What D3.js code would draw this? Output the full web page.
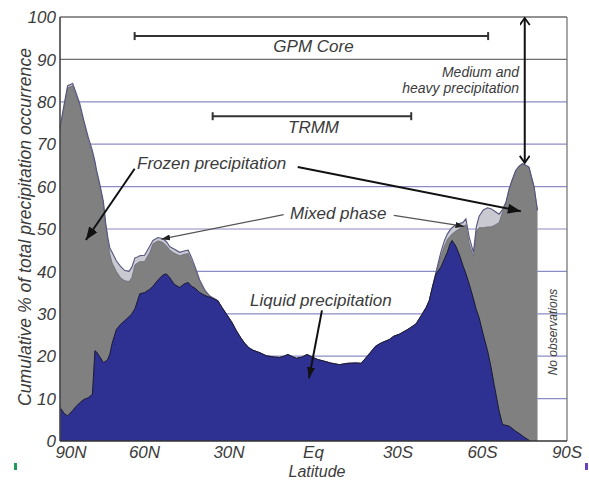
<!DOCTYPE html>
<html><head><meta charset="utf-8">
<script src="https://cdn.jsdelivr.net/npm/d3@7"></script>
<style>
body{margin:0;background:#fff}
svg{display:block}
text{font-family:"Liberation Sans",Arial,sans-serif;font-style:italic;fill:#3b3b3b}
</style>
</head><body>
<svg id="chart" width="589" height="480"></svg>
<script>
// ---- data (cumulative % of total precipitation occurrence) ----
const latitudes = [90,88.5,87.3,85.5,84.5,83,81.5,80,78.5,77.6,77,76,74.6,73.8,73,72.3,71.5,70,68.5,67,65.5,64.5,63.4,62.5,61.7,60,58.1,57,55.2,53.4,52.2,51,49.5,47.5,46,44.5,43.3,42,40.4,38.5,36.8,34,
  32.5,30.9,29,27.4,25.8,24.4,23,21.5,19,16.8,14,12,10.5,9.1,7.5,6.1,4,2.3,0.5,-1.5,-3.3,-6,-9.2,-12,-15,-16.9,-18.5,-20.4,-22,-23.4,-25,-26.9,-28.5,-30.5,-33.5,-36.4,-38.5,-40,-41.1,-42.3,-43.5,
  -45.2,-46.5,-47.5,-48.5,-49.2,-50.5,-51.7,-53,-54.1,-55.3,-56.8,-57.8,-58.8,-60.3,-61.8,-63,-64.1,-65.9,-67.1,-68.3,-69.5,-70.5,-71.8,-73,-74.2,-75.5,-76.5,-77.3,-78.3,-79.5];
const liquidCum = [7.9,6.5,5.9,7.2,8,9,9.8,10.2,11,21.3,21,20,18.5,18.8,19.3,20.5,23,26.3,27.5,28.4,29.3,30,31.2,33,34.7,35,35.8,36.5,38,39.2,39.4,38.5,37,36.2,37,37.4,36.5,36,35,34.3,33.9,33.1,
  31.5,29.9,28,26,24.3,23,22,21.4,20.8,20.1,19.8,19.7,20,20.4,19.9,19.5,19.8,20.4,19.8,19.2,18.9,18.4,18,18.3,18.4,18.3,19.5,21,22.3,22.9,23.4,23.9,24.7,25.2,26.3,27.6,29.8,31.5,33.1,36.5,39.4,
  41,43,44.5,46.5,47.3,46,44.1,41.5,39.5,37,33.5,31,29.1,25,21.3,17.5,13.4,7.1,3.9,3.7,3.5,3,2.3,1.8,1.2,0.6,0.2,0,0,0];
const frozenCum = [73.5,79,83.3,83.8,82,79,75,71,68,65.5,63.3,60.5,56,51,47,44,42,40,38.5,37.8,37.6,38.5,41.5,42,42.3,42.3,44.5,46.5,47.2,46.8,46,45,44.3,43.7,44,44.2,42.5,40.5,37.6,35.2,34.1,33.1,
  31.5,29.9,28,26,24.3,23,22,21.4,20.8,20.1,19.8,19.7,20,20.4,19.9,19.5,19.8,20.4,19.8,19.2,18.9,18.4,18,18.3,18.4,18.3,19.5,21,22.3,22.9,23.4,23.9,24.7,25.2,26.3,27.6,29.8,31.5,33.1,36.5,39.6,
  43.5,46,47.5,48.3,48.8,49.5,50,50.5,51,46.5,43.5,49.5,50.3,50.3,50.5,50.5,50.8,51.5,54,56,59.5,61.5,63.8,64.8,65.4,65,64.6,62.5,60,54.4];
const totalCum = [74,79.5,83.8,84.3,82.5,79.6,75.5,71.7,68.5,66,63.8,61,56.5,51.5,48,45.5,44.5,42.5,41.2,40.2,40,41,43.2,43.4,43.7,43.8,46,47.3,48,47.7,47,45.8,45.3,44.5,44.8,45,43.3,41,38,35.5,34.2,33.1,
  31.5,29.9,28,26,24.3,23,22,21.4,20.8,20.1,19.8,19.7,20,20.4,19.9,19.5,19.8,20.4,19.8,19.2,18.9,18.4,18,18.3,18.4,18.3,19.5,21,22.3,22.9,23.4,23.9,24.7,25.2,26.3,27.6,29.8,31.5,33.1,36.5,39.8,
  44.5,47.3,48.8,49.8,50.3,51,51.3,51.5,52.4,48,44.5,50.5,53,54.5,55,54.8,54.3,53.5,54.6,56.3,59.5,61.5,63.8,64.8,65.4,65,64.6,62.5,60,54.4];

const yTicks = [0,10,20,30,40,50,60,70,80,90,100];
const xTicks = [90,60,30,0,-30,-60,-90];
const xTickLabels = ["90N","60N","30N","Eq","30S","60S","90S"];
const gpmRange = [63.5,-62];   // latitude coverage bar
const trmmRange = [35.8,-34.7];

// ---- layout ----
const svg = d3.select("#chart");
const mLeft = 60, mRight = 567, mTop = 17, mBottom = 441;
const x = d3.scaleLinear().domain([90,-90]).range([mLeft,mRight]);
const y = d3.scaleLinear().domain([0,100]).range([mBottom,mTop]);

const data = latitudes.map((lat,i)=>({lat, liquid:liquidCum[i], frozen:frozenCum[i], total:totalCum[i]}));

// markers
const defs = svg.append("defs");
function marker(id,len,wid,color){
  defs.append("marker").attr("id",id).attr("markerUnits","userSpaceOnUse")
    .attr("markerWidth",len).attr("markerHeight",wid).attr("refX",len).attr("refY",wid/2)
    .attr("orient","auto").append("path")
    .attr("d",`M0,0L${len},${wid/2}L0,${wid}Z`).attr("fill",color);
}
marker("hBig",13,10,"#111");
marker("hMid",11,8,"#111");
marker("hSmall",9,6,"#222");
defs.append("marker").attr("id","chev").attr("markerUnits","userSpaceOnUse")
  .attr("markerWidth",12).attr("markerHeight",12).attr("refX",8).attr("refY",5)
  .attr("orient","auto-start-reverse").append("path")
  .attr("d","M1,0L8,5L1,10").attr("fill","none").attr("stroke","#111").attr("stroke-width",1.8);

// gridlines
svg.append("g").selectAll("line").data(yTicks.filter(v=>v>0)).join("line")
  .attr("x1",mLeft).attr("x2",mRight).attr("y1",d=>y(d)).attr("y2",d=>y(d))
  .attr("stroke",d=>d>=90?"#6e6e6e":"#8c8cc4").attr("stroke-width",d=>d>=90?1.4:1.2);

// areas
const area = key => d3.area().x(d=>x(d.lat)).y0(y(0)).y1(d=>y(d[key]));
const line = key => d3.line().x(d=>x(d.lat)).y(d=>y(d[key]));
svg.append("path").datum(data).attr("d",area("total")).attr("fill","#c9c9d2");
svg.append("path").datum(data).attr("d",area("frozen")).attr("fill","#808080");
svg.append("path").datum(data).attr("d",line("frozen")).attr("fill","none").attr("stroke","#6a6a78").attr("stroke-width",0.8);
svg.append("path").datum(data).attr("d",line("total")).attr("fill","none").attr("stroke","#55557f").attr("stroke-width",1.1);
svg.append("path").datum(data).attr("d",area("liquid")).attr("fill","#2e3092");
svg.append("path").datum(data.filter(d=>d.liquid>0)).attr("d",line("liquid")).attr("fill","none").attr("stroke","#1a1a33").attr("stroke-width",1);

// frame
svg.append("line").attr("x1",mRight).attr("x2",mRight).attr("y1",mTop).attr("y2",mBottom).attr("stroke","#777").attr("stroke-width",1.3);
svg.append("line").attr("x1",mLeft).attr("x2",mLeft).attr("y1",mTop).attr("y2",mBottom).attr("stroke","#444").attr("stroke-width",1.6);
svg.append("line").attr("x1",mLeft).attr("x2",mRight).attr("y1",mBottom).attr("y2",mBottom).attr("stroke","#333").attr("stroke-width",1.6);

// y tick labels
svg.append("g").selectAll("text").data(yTicks).join("text")
  .attr("x",56).attr("y",d=>y(d)).attr("dy","0.36em").attr("text-anchor","end")
  .attr("font-size",17).text(d=>d);
// x tick labels
svg.append("g").selectAll("text").data(xTicks).join("text")
  .attr("x",(d,i)=>x(d)+(i===0?11:0)).attr("y",458).attr("text-anchor","middle")
  .attr("font-size",17).text((d,i)=>xTickLabels[i]);
// axis titles
svg.append("text").attr("x",317).attr("y",476.5).attr("text-anchor","middle").attr("font-size",16).text("Latitude");
svg.append("text").attr("transform",`translate(31,${227}) rotate(-90)`).attr("text-anchor","middle")
  .attr("font-size",17.6).text("Cumulative % of total precipitation occurrence");

// coverage bars
function rangeBar(r,val,label,labelY){
  const g = svg.append("g").attr("stroke","#333").attr("stroke-width",2);
  g.append("line").attr("x1",x(r[0])).attr("x2",x(r[1])).attr("y1",y(val)).attr("y2",y(val));
  r.forEach(v=>g.append("line").attr("x1",x(v)).attr("x2",x(v)).attr("y1",y(val)-4).attr("y2",y(val)+4));
  svg.append("text").attr("x",x(0)).attr("y",labelY).attr("text-anchor","middle").attr("font-size",17).text(label);
}
rangeBar(gpmRange,95.5,"GPM Core",52);
rangeBar(trmmRange,76.6,"TRMM",133);

// annotations
function arrow(p0,p1,w,m,color){
  svg.append("line").attr("x1",x(p0[0])).attr("y1",y(p0[1])).attr("x2",x(p1[0])).attr("y2",y(p1[1]))
    .attr("stroke",color).attr("stroke-width",w).attr("marker-end",`url(#${m})`);
}
svg.append("text").attr("x",137).attr("y",169).attr("font-size",17).text("Frozen precipitation");
arrow([63.5,64.2],[80.8,47.4],2,"hBig","#111");
arrow([5.6,64.6],[-73.6,54.2],2,"hBig","#111");
svg.append("text").attr("x",290).attr("y",219).attr("font-size",17).text("Mixed phase");
arrow([10.6,53.4],[54.1,47.6],1.2,"hSmall","#555");
arrow([-28.5,53.2],[-53.6,50.6],1.2,"hSmall","#555");
svg.append("text").attr("x",250).attr("y",306).attr("font-size",17).text("Liquid precipitation");
arrow([-3.0,30.8],[1.6,14.8],2,"hMid","#111");
svg.append("line").attr("x1",x(-75)).attr("x2",x(-75)).attr("y1",y(100)+1).attr("y2",y(65.6))
  .attr("stroke","#111").attr("stroke-width",2).attr("marker-start","url(#chev)").attr("marker-end","url(#chev)");
svg.append("text").attr("x",519).attr("y",77).attr("text-anchor","end").attr("font-size",14).text("Medium and");
svg.append("text").attr("x",519).attr("y",93).attr("text-anchor","end").attr("font-size",14).text("heavy precipitation");
svg.append("text").attr("transform",`translate(557,332) rotate(-90)`).attr("text-anchor","middle").attr("font-size",12).text("No observations");

// small marks at bottom edges
svg.append("rect").attr("x",14).attr("y",463).attr("width",3).attr("height",7).attr("fill","#1e9a5a");
svg.append("rect").attr("x",585).attr("y",463).attr("width",3).attr("height",7).attr("fill","#6a3fc0");
</script>
</body></html>
